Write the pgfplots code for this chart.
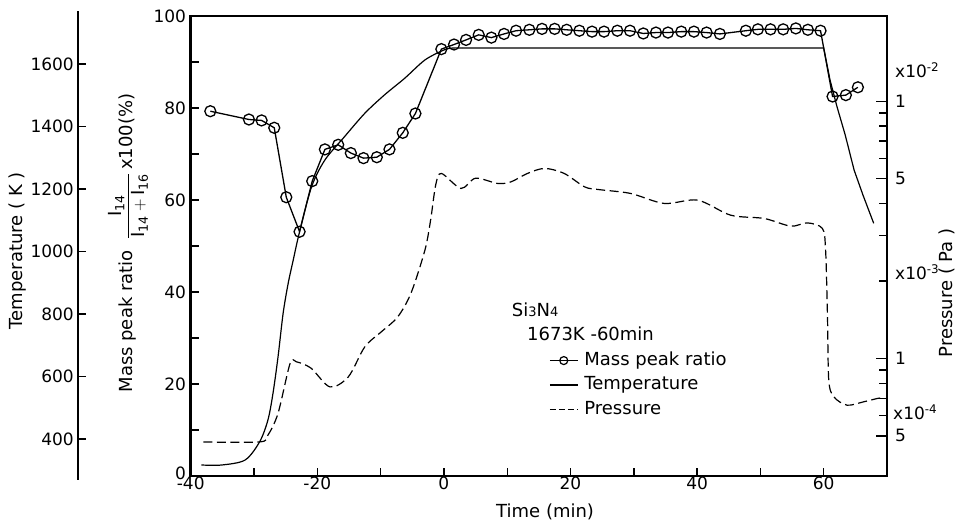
\documentclass[border=0pt]{standalone}
\usepackage{fontspec}
\setmainfont{DejaVu Sans}
\usepackage{amsmath}
\usepackage{pgfplots}
\pgfplotsset{compat=1.18}
\newcommand{\tickfont}{\fontsize{17}{20}\selectfont}
\newcommand{\labfont}{\fontsize{18}{21}\selectfont}
\pgfplotsset{
  every axis/.append style={
    scale only axis,
    /pgf/number format/assume math mode=true,
    /pgf/number format/1000 sep={},
    tick label style={font=\tickfont},
    label style={font=\labfont},
    axis line style={-, line width=2.6pt},
    tick style={line width=1.4pt, black},
    tick align=inside,
  },
}
\begin{document}
\begin{tikzpicture}
\useasboundingbox (0pt,0pt) rectangle (962pt,525pt);

% ---- temperature scale (display only) ----
\begin{axis}[
  at={(78pt,45pt)}, anchor=south west, width=100pt, height=469.4pt,
  xmin=0, xmax=1, ymin=268.8, ymax=1770.9,
  axis y line*=left, axis x line=none, xtick=\empty,
  ytick={400,600,...,1600}, major tick length=8pt,
  yticklabel style={inner sep=0pt, xshift=-4pt},
  ylabel={Temperature ( K )},
  ylabel style={at={(rel axis cs:-0.6,0.488)}, anchor=center},
]
\addplot[draw=none] coordinates {(0.5,1000)};
\end{axis}

% ---- temperature data ----
\begin{axis}[
  at={(190.7pt,49pt)}, anchor=south west, width=696.3pt, height=460pt,
  xmin=-40, xmax=70, ymin=281.6, ymax=1753.6, hide axis,
]
\addplot[smooth, tension=0.5, line width=1.2pt] coordinates {
(-38.3,316.8) (-35.1,316.8) (-31.4,332.8) (-29.1,391.4) (-27.8,460.8)
(-27.0,546.2) (-26.2,663.4) (-25.4,802.2) (-24.6,898.2) (-23.8,972.8)
(-22.8,1063.4) (-20.9,1207.4) (-18.8,1292.8) (-15.7,1367.4) (-12.5,1442.2)
(-9.4,1500.8) (-6.2,1554.2) (-3.0,1612.8) (0.0,1644.8) (1.4,1651.2) (3.0,1651.2)
};
\addplot[line width=1.2pt] coordinates {
(3.0,1651.2) (60.0,1651.2) (61.0,1548.8) (62.1,1463.4) (63.4,1372.8)
(64.8,1260.8) (66.2,1180.8) (67.9,1090.2)
};
\end{axis}

% ---- pressure (log, right) ----
\begin{axis}[
  at={(190.7pt,49pt)}, anchor=south west, width=696.3pt, height=460pt,
  xmin=-40, xmax=70, ymode=log, ymin=3.49e-4, ymax=2.145e-2,
  axis y line*=right, axis x line=none, xtick=\empty,
  ytick={0.0005,0.001,0.005,0.01}, yticklabels={5,1,5,1},
  minor ytick={0.0006,0.0007,0.0008,0.0009,0.002,0.003,0.004,0.006,0.007,0.008,0.009},
  major tick length=11pt, minor tick length=8pt,
  yticklabel style={anchor=west, inner sep=0pt, xshift=8pt},
  ylabel={Pressure ( Pa )},
  ylabel style={at={(rel axis cs:1.0862,0.398)}, anchor=center},
]
\addplot[smooth, tension=0.5, line width=1.2pt, dash pattern=on 9pt off 4.5pt] coordinates {
(-38.0,4.735e-4) (-29.1,4.735e-4) (-27.8,5.03e-4) (-26.2,6.12e-4) (-24.3,9.56e-4)
(-23.3,9.70e-4) (-21.0,9.17e-4) (-18.0,7.75e-4) (-15.1,8.48e-4) (-12.5,1.109e-3)
(-9.9,1.268e-3) (-7.3,1.450e-3) (-5.2,1.794e-3) (-3.0,2.636e-3) (-2.1,3.449e-3)
(-1.3,4.72e-3) (-0.4,5.24e-3) (2.7,4.58e-3) (5.0,5.02e-3) (8.5,4.79e-3)
(10.6,4.86e-3) (13.2,5.24e-3) (15.9,5.48e-3) (19.0,5.24e-3) (22.2,4.65e-3)
(24.3,4.54e-3) (29.5,4.38e-3) (34.8,4.005e-3) (40.1,4.125e-3) (45.3,3.606e-3)
(50.6,3.501e-3) (54.8,3.268e-3) (57.4,3.366e-3) (59.8,3.201e-3) (60.3,2.636e-3)
(60.6,1.450e-3) (60.8,8.23e-4) (61.6,7.09e-4) (63.7,6.58e-4) (66.3,6.78e-4)
(68.5,6.99e-4) (69.6,7.05e-4)
};
\end{axis}

% ---- main axis: mass peak ratio ----
\begin{axis}[
  at={(190.7pt,49pt)}, anchor=south west, width=696.3pt, height=460pt,
  xmin=-40, xmax=70, ymin=0, ymax=100,
  xtick={-40,-20,...,60}, minor xtick={-30,-10,...,50},
  ytick={0,20,40,60,80,100}, yticklabels={\raisebox{6pt}{0}\hspace{4pt},20,40,60,80,100},
  minor ytick={10,30,...,90},
  tick pos=left, major tick length=8pt, minor tick length=8pt,
  yticklabel style={inner sep=0pt, xshift=-4.5pt},
  xticklabel style={inner sep=0pt, yshift=-1pt},
  xlabel={Time (min)},
  xlabel style={at={(rel axis cs:0.509,-0.078)}, anchor=center},
  ylabel={Mass peak ratio \ $\dfrac{\textrm{I}_{\textrm{14}}}{\textrm{I}_{\textrm{14}}+\textrm{I}_{\textrm{16}}}$\,x100(\%)},
  ylabel style={at={(rel axis cs:-0.09,0.5065)}, anchor=center},
  legend style={at={(axis cs:16.6,27.2)}, anchor=north west, draw=none, fill=none,
    inner sep=0pt, row sep=5.5pt, column sep=5pt, font=\labfont,
    nodes={inner sep=1pt, text height=13pt, text depth=4pt}},
  legend cell align=left,
  legend image code/.code={\draw[mark repeat=2,mark phase=2,#1] plot coordinates {(0pt,0pt)(14pt,0pt)(28pt,0pt)};},
]
\addlegendimage{black, line width=1.2pt, mark=o, mark size=4pt, mark options={solid, fill=white, line width=1.2pt}}
\addlegendentry{Mass peak ratio}
\addlegendimage{black, line width=1.2pt}
\addlegendentry{Temperature}
\addlegendimage{black, line width=1.2pt, dash pattern=on 6pt off 3pt}
\addlegendentry{Pressure}
\addplot[forget plot, black, line width=1.3pt, mark=o, mark size=5.5pt, mark options={solid, fill=white, line width=1.3pt}] coordinates {
(-36.9,79.3) (-30.8,77.5) (-28.8,77.3) (-26.8,75.7) (-24.9,60.6) (-22.8,53.1)
(-20.8,64.1) (-18.8,71.0) (-16.7,72.0) (-14.7,70.2) (-12.7,69.1) (-10.6,69.3)
(-8.6,71.0) (-6.5,74.6) (-4.5,78.8) (-0.4,92.8) (1.6,93.8) (3.5,94.8) (5.5,95.9)
(7.5,95.3) (9.5,96.1) (11.4,96.8) (13.5,97.0) (15.5,97.2) (17.5,97.2) (19.4,97.0)
(21.4,96.8) (23.4,96.6) (25.3,96.6) (27.4,96.8) (29.4,96.8) (31.5,96.2) (33.5,96.4)
(35.4,96.4) (37.5,96.6) (39.5,96.6) (41.5,96.4) (43.6,96.1) (47.7,96.8) (49.6,97.1)
(51.6,97.1) (53.6,97.1) (55.6,97.3) (57.5,97.0) (59.5,96.8) (61.4,82.5) (63.5,82.8)
(65.4,84.5)
};
\end{axis}

% ---- annotations ----
\node[anchor=west, inner sep=0pt, font=\labfont] at (511.7pt,215pt)
  {Si{\fontsize{13}{13}\selectfont 3}N{\fontsize{13}{13}\selectfont 4}};
\node[anchor=west, inner sep=0pt, font=\labfont] at (527pt,191pt) {1673K -60min};
\node[anchor=west, inner sep=0pt, font=\tickfont] at (895pt,455pt) {x10\textsuperscript{-2}};
\node[anchor=west, inner sep=0pt, font=\tickfont] at (895pt,253pt) {x10\textsuperscript{-3}};
\node[anchor=west, inner sep=0pt, font=\tickfont] at (893pt,113pt) {x10\textsuperscript{-4}};
\end{tikzpicture}
\end{document}
